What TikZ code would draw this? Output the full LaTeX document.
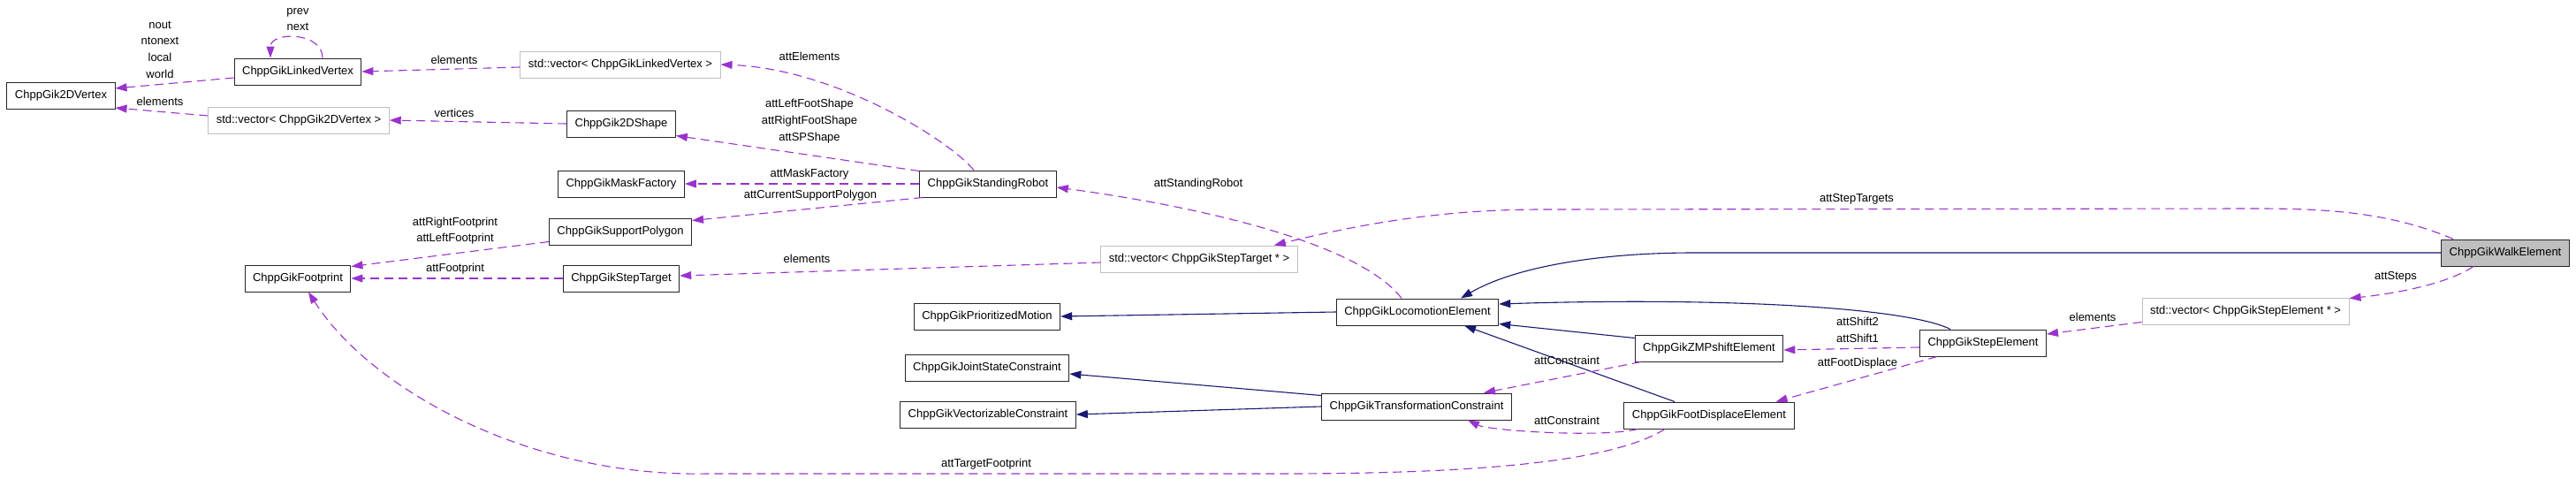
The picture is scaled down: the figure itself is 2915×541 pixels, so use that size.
\documentclass[tikz,border=0pt]{standalone}
\usepackage{fontspec}
\setmainfont{Liberation Sans}
\usetikzlibrary{arrows.meta}
\definecolor{usagecol}{HTML}{9A32CD}
\definecolor{inhcol}{HTML}{191970}
\definecolor{tmplcol}{HTML}{BFBFBF}
\tikzset{
  cls/.style={draw=black!85, line width=1pt, minimum height=30pt, inner xsep=9pt, inner ysep=0pt, font=\fontsize{13}{18.7}\selectfont},
  tmpl/.style={cls, draw=tmplcol},
  focus/.style={cls, fill=tmplcol},
  usage/.style={-{Triangle[length=13pt,width=9pt]}, usagecol, line width=1.1pt, dash pattern=on 10pt off 6pt},
  inherit/.style={-{Triangle[length=13pt,width=9pt]}, inhcol, line width=1.1pt},
  lbl/.style={font=\fontsize{13}{18.7}\selectfont, align=center, inner sep=0pt}
}

\begin{document}
\begin{tikzpicture}[x=1pt,y=-1pt]
  \useasboundingbox (0,0) rectangle (2915,541);

  % classes and template instances
  \node[cls]  (vtx2d)          at (69,108)   {ChppGik2DVertex};
  \node[cls]  (linkedVtx)      at (337,81)   {ChppGikLinkedVertex};
  \node[tmpl] (vecLinked)      at (702,73)   {std::vector< ChppGikLinkedVertex >};
  \node[tmpl] (vec2d)          at (338,136)  {std::vector< ChppGik2DVertex >};
  \node[cls]  (shape2d)        at (703,140)  {ChppGik2DShape};
  \node[cls]  (maskFactory)    at (703,208)  {ChppGikMaskFactory};
  \node[cls]  (supportPoly)    at (702,262)  {ChppGikSupportPolygon};
  \node[cls]  (stepTarget)     at (703,315)  {ChppGikStepTarget};
  \node[cls]  (footprint)      at (337,315)  {ChppGikFootprint};
  \node[cls]  (standingRobot)  at (1118,208) {ChppGikStandingRobot};
  \node[tmpl] (vecStepTarget)  at (1357,293) {std::vector< ChppGikStepTarget * >};
  \node[cls]  (prioMotion)     at (1117,358) {ChppGikPrioritizedMotion};
  \node[cls]  (jointState)     at (1117,416) {ChppGikJointStateConstraint};
  \node[cls]  (vectorizable)   at (1118,469) {ChppGikVectorizableConstraint};
  \node[cls]  (locomotion)     at (1604,353) {ChppGikLocomotionElement};
  \node[cls]  (transformation) at (1603,460) {ChppGikTransformationConstraint};
  \node[cls]  (zmpShift)       at (1934,394) {ChppGikZMPshiftElement};
  \node[cls]  (footDisplace)   at (1934,470) {ChppGikFootDisplaceElement};
  \node[cls]  (stepElement)    at (2244,388) {ChppGikStepElement};
  \node[tmpl] (vecStepElement) at (2541,352) {std::vector< ChppGikStepElement * >};
  \node[focus] (walk)          at (2835,286) {ChppGikWalkElement};

  % inheritance
  \draw[inherit] (walk.west) -- (1917,286)
    .. controls +(-110,0) and +(60,-35) .. ([xshift=49pt]locomotion.north);
  \draw[inherit] ([xshift=-37pt]stepElement.north)
    .. controls +(-50,-25) and +(250,-8) .. ([yshift=9pt]locomotion.east);
  \draw[inherit] ([yshift=-4pt]zmpShift.north west) -- ([yshift=2pt]locomotion.south east);
  \draw[inherit] ([xshift=-39pt]footDisplace.north) -- ([xshift=53pt]locomotion.south);
  \draw[inherit] (locomotion.west) -- (prioMotion.east);
  \draw[inherit] ([yshift=-3pt]transformation.north west) -- ([yshift=-7pt]jointState.east);
  \draw[inherit] (transformation.west) -- (vectorizable.east);

  % usage relations
  \draw[usage] ([yshift=-7pt]linkedVtx.west) -- ([yshift=8pt]vtx2d.east);
  \draw[usage] ([xshift=28pt]linkedVtx.north)
    .. controls +(0,-30) and +(0,-30) .. ([xshift=-31pt]linkedVtx.north);
  \draw[usage] ([yshift=-3pt]vecLinked.west) -- (linkedVtx.east);
  \draw[usage] ([yshift=5pt]vec2d.west) -- ([yshift=-14pt]vtx2d.east);
  \draw[usage] (shape2d.west) -- (vec2d.east);
  \draw[usage] ([xshift=-16pt]standingRobot.north)
    .. controls +(-27,-33) and +(131,5) .. (vecLinked.east);
  \draw[usage] ([yshift=-1pt]standingRobot.north west) -- ([yshift=2pt]shape2d.south east);
  \draw[usage] (standingRobot.west) -- (maskFactory.east);
  \draw[usage] ([xshift=4pt]standingRobot.south west) -- ([yshift=-3pt]supportPoly.north east);
  \draw[usage] ([yshift=4pt]supportPoly.south west) -- ([yshift=-2pt]footprint.north east);
  \draw[usage] (stepTarget.west) -- (footprint.east);
  \draw[usage] ([yshift=-4pt]vecStepTarget.west) -- ([yshift=3pt]stepTarget.east);
  \draw[usage] ([xshift=-18pt]locomotion.north)
    .. controls +(-50,-65) and +(150,20) .. ([yshift=-4pt]standingRobot.east);
  \draw[usage] ([xshift=-59pt]walk.north)
    .. controls +(-70,-30) and +(80,0) .. (2554,236) -- (1745,237)
    .. controls +(-120,0) and +(90,-22) .. ([xshift=-27pt]vecStepTarget.north east);
  \draw[usage] ([xshift=-36pt]walk.south)
    .. controls +(-30,20) and +(50,-5) .. ([yshift=-1pt]vecStepElement.north east);
  \draw[usage] ([yshift=3pt]vecStepElement.south west) -- ([yshift=10pt]stepElement.east);
  \draw[usage] ([yshift=-5pt]stepElement.west) -- ([yshift=-2pt]zmpShift.east);
  \draw[usage] ([xshift=20pt]stepElement.south west) -- ([xshift=-21pt]footDisplace.north east);
  \draw[usage] ([xshift=7pt]zmpShift.south west) -- ([xshift=76pt]transformation.north);
  \draw[usage] ([xshift=16pt]footDisplace.south west)
    .. controls +(-40,10) and +(25,12) .. ([xshift=58pt]transformation.south);
  \draw[usage] ([xshift=-50pt]footDisplace.south)
    .. controls +(-64,40) and +(200,0) .. (1450,536) -- (800,536)
    .. controls +(-200,4) and +(71,111) .. ([xshift=12pt]footprint.south);

  % edge labels
  \node[lbl] (lNout)       at (181,56)   {nout\\ntonext\\local\\world};
  \node[lbl] (lPrev)       at (337,22)   {prev\\next};
  \node[lbl] (lElemLinked) at (514,68)   {elements};
  \node[lbl] (lElem2d)     at (181,115)  {elements};
  \node[lbl] (lVertices)   at (514,128)  {vertices};
  \node[lbl] (lElements)   at (916,64)   {attElements};
  \node[lbl] (lShapes)     at (916,137)  {attLeftFootShape\\attRightFootShape\\attSPShape};
  \node[lbl] (lMask)       at (916,197)  {attMaskFactory};
  \node[lbl] (lSupport)    at (917,221)  {attCurrentSupportPolygon};
  \node[lbl] (lFootprints) at (515,261)  {attRightFootprint\\attLeftFootprint};
  \node[lbl] (lFootprint)  at (515,304)  {attFootprint};
  \node[lbl] (lElemTarget) at (913,293)  {elements};
  \node[lbl] (lStanding)   at (1356,208) {attStandingRobot};
  \node[lbl] (lTargets)    at (2101,225) {attStepTargets};
  \node[lbl] (lSteps)      at (2711,313) {attSteps};
  \node[lbl] (lElemStep)   at (2368,359) {elements};
  \node[lbl] (lShift)      at (2102,373) {attShift2\\attShift1};
  \node[lbl] (lFootDisp)   at (2102,411) {attFootDisplace};
  \node[lbl] (lConstrZmp)  at (1773,408) {attConstraint};
  \node[lbl] (lConstrFoot) at (1773,476) {attConstraint};
  \node[lbl] (lTarget)     at (1116,525) {attTargetFootprint};
\end{tikzpicture}
\end{document}
